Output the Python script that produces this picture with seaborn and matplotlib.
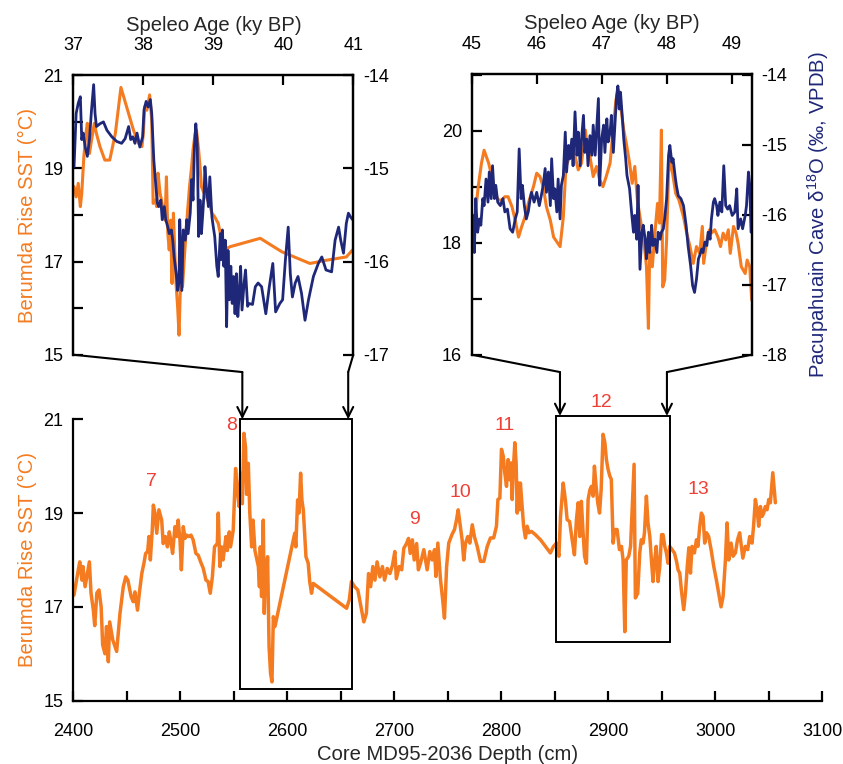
import numpy as np
import pandas as pd
import matplotlib
matplotlib.use("Agg")
import matplotlib.pyplot as plt
import seaborn as sns
from matplotlib.patches import Rectangle, ConnectionPatch
from matplotlib.transforms import blended_transform_factory

sns.set_theme(style="white")
plt.rcParams['font.family'] = ['Liberation Sans', 'DejaVu Sans']
plt.rcParams['axes.unicode_minus'] = False
plt.rcParams['mathtext.fontset'] = 'custom'
plt.rcParams['mathtext.rm'] = 'Liberation Sans'

# ---------------- bottom panel: SST vs core depth ----------------
bottom_depth = [
    2400.6, 2404.7, 2406, 2408, 2409, 2411, 2413, 2415, 2416.5, 2418.7,
    2420, 2422, 2424, 2426, 2427.4, 2429.6, 2431, 2432.7, 2434, 2436.8,
    2439, 2440.5, 2443.6, 2446.7, 2449, 2451, 2454, 2456, 2457.6, 2460,
    2461.7, 2464, 2466, 2467.6, 2469.5, 2470.7, 2472, 2473.8, 2474.8, 2476.3,
    2478, 2480, 2482.6, 2484, 2486, 2488, 2489.7, 2491, 2492.8, 2495,
    2496.6, 2498, 2499.7, 2501, 2502.8, 2504.4, 2506, 2508, 2510, 2512,
    2514.6, 2516.8, 2519, 2521.5, 2524, 2526, 2528, 2530, 2532, 2534.6,
    2535.5, 2537, 2538.6, 2540, 2542.7, 2544, 2545.8, 2547, 2549.5, 2551.7,
    2553, 2555, 2556.4, 2558, 2559.5, 2561, 2562, 2563.6, 2565, 2566.7,
    2568, 2569.8, 2571, 2573, 2574, 2574.8, 2576, 2577.6, 2578.5, 2579.8,
    2580.7, 2581.6, 2583, 2584.4, 2585.7, 2587, 2588.5, 2607, 2608, 2609.7,
    2611, 2612.5, 2613.7, 2615, 2617.5, 2619.6, 2621, 2622.7, 2624.3, 2655.5,
    2658, 2660, 2663, 2666, 2669.5, 2671.6, 2674, 2676, 2678, 2680,
    2682, 2684, 2686.6, 2689, 2691, 2693.5, 2696, 2698.4, 2700.6, 2702,
    2704.7, 2707, 2709, 2711.5, 2713.4, 2715, 2717, 2718.7, 2721, 2722.6,
    2724.6, 2727.7, 2730.8, 2733.3, 2735.5, 2737.7, 2739, 2740.8, 2743.3, 2745,
    2747, 2749, 2751, 2754, 2756.4, 2758.3, 2759.8, 2761.4, 2763.5, 2765,
    2766.7, 2768.8, 2770.7, 2773, 2775, 2777.6, 2780.7, 2783.8, 2787, 2790,
    2793, 2795.6, 2797, 2798.8, 2800.3, 2802, 2803.4, 2805, 2806.5, 2808,
    2809.3, 2810.3, 2811.2, 2812.8, 2814, 2815, 2816, 2817, 2818, 2819.6,
    2821, 2822.7, 2824.3, 2826, 2828.3, 2832, 2836.8, 2841.4, 2846, 2849,
    2851.7, 2854, 2855.5, 2858, 2860, 2861.7, 2864, 2866.4, 2868.5, 2870.4,
    2872, 2873.5, 2875, 2876.6, 2878, 2879.7, 2881.3, 2883, 2884.4, 2886,
    2887.2, 2888.8, 2890.3, 2892, 2893.5, 2895.3, 2897, 2898.4, 2900, 2901.6,
    2903, 2904.7, 2906.2, 2908.4, 2910.6, 2912.5, 2914, 2915.6, 2917, 2919.3,
    2921, 2923, 2924.3, 2925.5, 2927.7, 2929.6, 2931, 2932.7, 2934, 2935.8,
    2937.3, 2939, 2940.5, 2942, 2943.6, 2945, 2946.7, 2948.3, 2950, 2951.4,
    2953, 2954.5, 2956, 2957.6, 2959.8, 2962, 2964, 2965.4, 2967, 2968.5,
    2970.7, 2972.3, 2974, 2975.5, 2977, 2978.5, 2980.7, 2982.6, 2984, 2985.7,
    2987.2, 2988.8, 2990.3, 2992, 2994, 2996.3, 2998.8, 3001.2, 3003.4, 3005.6,
    3007.5, 3009.7, 3011.2, 3012.8, 3015, 3016.8, 3019, 3021, 3023, 3024.6,
    3026, 3028.3, 3030.5, 3032.4, 3034.6, 3036, 3037.7, 3039.3, 3040.8, 3042.4,
    3044, 3045.5, 3047, 3048.6, 3050.2, 3051.7, 3054, 3056.4,
]
bottom_sst = [
    17.25, 17.8, 17.96, 17.57, 17.86, 17.43, 17.7, 17.96, 17.3, 16.93,
    16.6, 17.3, 17.36, 17.0, 16.19, 16.0, 16.58, 15.83, 16.68, 16.3,
    16.15, 16.05, 16.86, 17.43, 17.64, 17.57, 17.22, 17.11, 17.32, 16.93,
    17.29, 17.71, 17.93, 18.14, 18.18, 18.5, 18.0, 18.64, 19.17, 19.0,
    18.57, 19.07, 18.85, 18.35, 18.5, 18.28, 18.6, 18.43, 18.14, 18.71,
    18.5, 18.85, 18.43, 17.79, 18.71, 18.46, 18.53, 18.5, 18.53, 18.43,
    18.14, 18.1, 17.96, 17.82, 17.57, 17.54, 17.29, 17.64, 18.28, 18.35,
    19.0, 17.86, 18.28, 18.0, 18.5, 18.2, 18.6, 18.28, 18.64, 19.95,
    19.56, 19.14, 19.85, 19.2, 20.7, 20.4, 19.4, 20.06, 19.0, 18.28,
    18.85, 18.2, 18.07, 17.86, 17.43, 18.28, 17.22, 18.85, 16.86, 18.0,
    17.57, 18.07, 16.15, 15.58, 15.4, 16.79, 16.58, 18.57, 18.28, 19.28,
    19.0, 19.85, 19.28, 19.07, 18.07, 17.93, 17.54, 17.29, 17.5, 16.97,
    17.15, 17.54, 17.43, 17.36, 16.93, 16.68, 16.86, 17.71, 17.43, 17.86,
    17.57, 17.96, 17.64, 17.86, 17.57, 17.82, 17.71, 17.89, 18.18, 17.6,
    17.86, 17.79, 18.25, 18.35, 18.46, 18.14, 18.43, 18.0, 18.35, 17.79,
    17.93, 18.22, 17.79, 18.18, 18.0, 18.22, 17.65, 18.36, 17.58, 17.22,
    16.76, 17.86, 18.36, 18.54, 18.65, 18.86, 19.07, 18.79, 18.43, 18.0,
    18.36, 18.5, 18.36, 18.75, 18.5, 18.29, 17.97, 17.97, 18.29, 18.47,
    18.47, 18.72, 19.29, 19.32, 20.36, 20.21, 19.86, 19.57, 20.14, 19.71,
    20.07, 19.29, 19.86, 20.5, 20.07, 19.0, 19.64, 19.07, 19.64, 19.14,
    18.72, 18.47, 18.72, 18.58, 18.61, 18.54, 18.43, 18.29, 18.15, 18.29,
    18.36, 18.08, 18.93, 19.64, 19.29, 18.86, 18.82, 18.43, 18.11, 18.86,
    19.22, 18.5, 19.25, 18.58, 18.08, 17.93, 19.29, 19.5, 19.57, 19.36,
    20.0, 19.57, 19.22, 19.0, 19.5, 20.68, 20.5, 20.14, 19.93, 19.79,
    19.72, 18.36, 18.65, 18.65, 18.22, 18.29, 18.0, 16.47, 18.0, 18.08,
    18.29, 19.36, 20.04, 17.19, 17.29, 18.15, 18.43, 18.36, 18.58, 19.36,
    18.79, 18.5, 18.0, 17.54, 18.0, 18.29, 17.54, 17.86, 18.54, 18.54,
    18.29, 18.15, 17.93, 18.29, 18.22, 18.15, 17.97, 17.79, 17.72, 17.36,
    16.94, 17.29, 17.86, 18.26, 17.72, 18.29, 18.15, 18.43, 18.29, 18.72,
    19.0, 18.93, 18.36, 18.58, 18.5, 18.22, 17.86, 17.58, 17.29, 17.0,
    17.22, 18.0, 18.79, 18.0, 18.36, 18.08, 18.15, 18.43, 18.58, 18.29,
    18.04, 18.29, 18.22, 18.5, 18.36, 18.72, 19.29, 19.07, 18.72, 19.14,
    18.93, 19.0, 19.14, 19.07, 19.29, 19.22, 19.86, 19.22,
]

event_labels = ['7', '8', '9', '10', '11', '12', '13']
event_depth = [2473, 2548, 2719, 2762, 2803, 2894, 2984]
event_sst = [19.68, 20.87, 18.86, 19.43, 20.87, 21.35, 19.5]

box_depth_start = [2556, 2851]
box_depth_end = [2661, 2958]
box_sst_low = [15.25, 16.25]
box_sst_high = [21.0, 21.07]
arrow_depth = [2558, 2657, 2855, 2955]

# ---------------- top-left panel: 37-41 ky ----------------
tl_age_sst = [
    37.01, 37.04, 37.07, 37.1, 37.12, 37.15, 37.18, 37.2, 37.23, 37.26,
    37.3, 37.33, 37.38, 37.45, 37.52, 37.6, 37.68, 37.76, 37.86, 37.93,
    37.98, 38.0, 38.02, 38.05, 38.09, 38.12, 38.14, 38.17, 38.19, 38.21,
    38.24, 38.26, 38.29, 38.31, 38.33, 38.35, 38.37, 38.39, 38.41, 38.43,
    38.45, 38.47, 38.49, 38.51, 38.53, 38.56, 38.59, 38.61, 38.63, 38.66,
    38.69, 38.71, 38.74, 38.76, 38.79, 38.81, 38.83, 38.87, 38.9, 38.94,
    38.98, 39.02, 39.07, 39.12, 39.19, 39.24, 39.67, 39.98, 40.38, 40.62,
    40.9, 40.99,
]
tl_sst = [
    18.61, 18.39, 18.68, 18.18, 18.46, 19.25, 19.75, 19.97, 19.32, 19.61,
    19.97, 19.75, 19.47, 19.18, 19.18, 19.75, 20.74, 20.33, 19.82, 19.54,
    19.47, 19.75, 20.33, 20.25, 20.58, 20.04, 18.25, 18.32, 18.18, 18.9,
    18.46, 18.32, 18.04, 17.89, 18.82, 17.6, 17.25, 17.89, 16.53, 18.04,
    17.18, 16.46, 16.03, 15.42, 16.46, 16.46, 17.18, 17.6, 18.04, 18.61,
    19.04, 19.4, 19.75, 19.82, 19.4, 19.04, 18.61, 18.46, 18.39, 18.25,
    18.04, 17.96, 17.82, 17.46, 17.28, 17.32, 17.5, 17.21, 16.96, 17.03,
    17.1, 17.25,
]
tl_age_d18o = [
    37.01, 37.04, 37.07, 37.1, 37.12, 37.14, 37.17, 37.2, 37.23, 37.26,
    37.29, 37.31, 37.33, 37.38, 37.43, 37.48, 37.55, 37.62, 37.69, 37.74,
    37.79, 37.82, 37.85, 37.88, 37.91, 37.95, 37.99, 38.01, 38.04, 38.07,
    38.1, 38.12, 38.15, 38.18, 38.2, 38.22, 38.25, 38.27, 38.3, 38.32,
    38.35, 38.37, 38.4, 38.42, 38.44, 38.47, 38.49, 38.51, 38.52, 38.55,
    38.57, 38.6, 38.62, 38.64, 38.67, 38.69, 38.71, 38.73, 38.75, 38.77,
    38.79, 38.81, 38.83, 38.85, 38.87, 38.88, 38.9, 38.93, 38.95, 38.98,
    39.0, 39.02, 39.05, 39.07, 39.1, 39.11, 39.13, 39.15, 39.17, 39.19,
    39.21, 39.23, 39.25, 39.27, 39.29, 39.31, 39.33, 39.35, 39.37, 39.39,
    39.41, 39.44, 39.46, 39.49, 39.51, 39.56, 39.6, 39.64, 39.69, 39.75,
    39.8, 39.85, 39.89, 39.95, 39.99, 40.03, 40.07, 40.1, 40.13, 40.17,
    40.21, 40.26, 40.31, 40.36, 40.43, 40.5, 40.55, 40.61, 40.69, 40.74,
    40.79, 40.82, 40.86, 40.9, 40.93, 40.96, 40.99,
]
tl_d18o = [
    -14.98, -14.41, -14.3, -14.23, -14.69, -14.62, -14.77, -14.87, -14.69, -14.37,
    -14.1, -14.41, -14.55, -14.52, -14.5, -14.59, -14.66, -14.71, -14.73, -14.68,
    -14.55, -14.69, -14.66, -14.73, -14.62, -14.77, -14.66, -14.37, -14.28, -14.34,
    -14.26, -14.41, -14.91, -15.2, -15.37, -15.41, -15.34, -15.55, -15.41, -15.55,
    -15.63, -15.7, -15.66, -15.77, -15.95, -16.13, -16.31, -16.23, -15.55, -16.31,
    -15.66, -15.77, -15.55, -15.7, -15.48, -15.12, -15.34, -14.77, -14.52, -14.73,
    -15.73, -15.34, -15.7, -15.48, -15.23, -14.98, -15.2, -15.41, -15.09, -15.52,
    -15.63, -15.73, -16.05, -16.16, -15.7, -15.98, -15.66, -16.05, -15.77, -16.7,
    -15.88, -16.41, -16.05, -16.45, -16.16, -16.56, -16.13, -16.59, -16.34, -16.05,
    -16.52, -16.23, -16.09, -16.48, -16.45, -16.46, -16.27, -16.23, -16.27, -16.56,
    -16.27, -16.02, -16.54, -16.45, -16.41, -15.98, -15.63, -16.13, -16.38, -16.23,
    -16.16, -16.34, -16.63, -16.41, -16.16, -16.02, -15.95, -16.09, -16.11, -15.77,
    -15.63, -15.77, -15.91, -15.59, -15.48, -15.52, -15.55,
]

# ---------------- top-right panel: 45-49.3 ky ----------------
tr_age_sst = [
    45.0, 45.05, 45.1, 45.15, 45.19, 45.26, 45.31, 45.36, 45.41, 45.46,
    45.51, 45.56, 45.62, 45.67, 45.72, 45.77, 45.82, 45.87, 45.95, 46.0,
    46.05, 46.1, 46.15, 46.21, 46.26, 46.36, 46.41, 46.45, 46.49, 46.54,
    46.59, 46.64, 46.69, 46.75, 46.78, 46.82, 46.87, 46.92, 46.97, 47.02,
    47.07, 47.13, 47.18, 47.22, 47.26, 47.3, 47.34, 47.38, 47.43, 47.47,
    47.51, 47.55, 47.59, 47.63, 47.67, 47.69, 47.72, 47.74, 47.78, 47.82,
    47.86, 47.89, 47.92, 47.94, 47.97, 48.0, 48.03, 48.06, 48.1, 48.14,
    48.19, 48.26, 48.31, 48.36, 48.41, 48.46, 48.51, 48.55, 48.57, 48.62,
    48.66, 48.69, 48.74, 48.79, 48.83, 48.87, 48.91, 48.95, 48.98, 49.03,
    49.07, 49.1, 49.15, 49.21, 49.24, 49.28, 49.31,
]
tr_sst = [
    18.05, 18.46, 19.0, 19.42, 19.65, 19.42, 19.18, 18.88, 18.76, 18.76,
    18.82, 18.82, 18.64, 18.4, 18.1, 18.29, 18.46, 18.7, 19.0, 19.24,
    19.18, 19.0, 18.64, 18.4, 18.1, 17.93, 18.46, 19.36, 19.48, 19.65,
    19.54, 19.3, 19.42, 20.01, 19.65, 19.54, 19.18, 19.36, 19.12, 19.0,
    19.18, 19.42, 20.07, 20.55, 20.73, 20.37, 20.01, 19.77, 19.42, 19.06,
    19.36, 18.76, 18.46, 18.17, 17.81, 17.57, 16.47, 17.87, 17.57, 18.17,
    18.7, 18.35, 20.01, 17.21, 17.33, 18.05, 19.24, 19.48, 19.18, 18.88,
    18.76, 18.46, 18.17, 17.93, 17.63, 17.93, 17.81, 18.29, 17.63, 18.05,
    18.23, 18.17, 18.23, 18.1, 17.93, 18.17, 18.05, 18.23, 17.81, 18.29,
    18.17, 17.99, 17.57, 17.45, 17.69, 17.57, 16.98,
]
tr_age_d18o = [
    45.02, 45.04, 45.06, 45.09, 45.12, 45.14, 45.17, 45.19, 45.22, 45.25,
    45.27, 45.3, 45.32, 45.35, 45.37, 45.4, 45.44, 45.48, 45.51, 45.55,
    45.59, 45.63, 45.67, 45.7, 45.73, 45.76, 45.78, 45.81, 45.84, 45.87,
    45.9, 45.92, 45.96, 46.0, 46.04, 46.07, 46.1, 46.13, 46.15, 46.18,
    46.21, 46.23, 46.26, 46.28, 46.31, 46.33, 46.36, 46.38, 46.41, 46.44,
    46.46, 46.49, 46.51, 46.54, 46.56, 46.59, 46.62, 46.64, 46.67, 46.69,
    46.72, 46.74, 46.77, 46.79, 46.82, 46.85, 46.87, 46.9, 46.92, 46.95,
    46.97, 47.0, 47.03, 47.05, 47.08, 47.1, 47.13, 47.15, 47.18, 47.21,
    47.23, 47.25, 47.27, 47.29, 47.32, 47.34, 47.37, 47.39, 47.43, 47.46,
    47.49, 47.51, 47.54, 47.56, 47.59, 47.62, 47.64, 47.67, 47.69, 47.72,
    47.74, 47.77, 47.79, 47.82, 47.85, 47.87, 47.9, 47.92, 47.95, 47.97,
    48.0, 48.03, 48.05, 48.08, 48.1, 48.13, 48.15, 48.18, 48.22, 48.26,
    48.3, 48.33, 48.37, 48.4, 48.43, 48.46, 48.49, 48.51, 48.54, 48.56,
    48.59, 48.62, 48.64, 48.67, 48.69, 48.72, 48.74, 48.77, 48.79, 48.82,
    48.85, 48.88, 48.91, 48.94, 48.97, 49.01, 49.05, 49.08, 49.1, 49.14,
    49.17, 49.21, 49.23, 49.26, 49.28, 49.3,
]
tr_d18o = [
    -16.01, -16.54, -15.77, -16.25, -16.06, -16.15, -15.77, -15.87, -15.49, -15.82,
    -15.39, -15.77, -15.3, -15.77, -15.58, -15.82, -15.87, -15.77, -15.96, -15.92,
    -16.2, -16.25, -16.06, -15.96, -15.06, -15.77, -15.58, -15.87, -16.06, -15.96,
    -15.77, -15.68, -15.82, -15.68, -15.87, -15.73, -15.58, -15.34, -15.68, -15.39,
    -15.87, -15.2, -15.77, -15.63, -15.96, -15.49, -16.06, -15.58, -15.44, -14.82,
    -15.39, -15.01, -15.2, -14.92, -15.3, -14.53, -15.15, -14.82, -15.3, -14.92,
    -14.58, -15.11, -14.92, -15.3, -14.87, -15.15, -14.72, -15.15, -14.82, -14.34,
    -15.58, -14.92, -14.72, -15.11, -14.63, -14.96, -14.82, -14.58, -15.11, -14.63,
    -14.3, -14.16, -14.49, -14.25, -14.63, -14.92, -15.2, -15.44, -15.63, -15.96,
    -16.25, -16.01, -16.35, -15.58, -16.78, -16.25, -16.15, -16.35, -16.63, -16.25,
    -16.54, -16.15, -16.44, -16.35, -16.54, -16.25, -16.35, -16.25, -16.2, -16.06,
    -15.77, -15.15, -15.01, -15.25, -15.2, -15.44, -15.58, -15.73, -15.77, -15.87,
    -16.15, -16.44, -16.73, -17.01, -17.11, -16.92, -16.63, -16.58, -16.49, -16.54,
    -16.39, -16.44, -16.25, -16.35, -16.06, -15.82, -15.77, -15.87, -16.01, -15.82,
    -15.96, -15.3, -15.87, -15.92, -15.87, -16.01, -15.96, -15.63, -16.2, -16.06,
    -16.2, -16.01, -15.87, -15.39, -15.58, -16.25,
]

ORANGE = '#f47b20'
NAVY = '#1f2878'
RED = '#ee4036'
FS = 13       # tick labels
LFS = 14.6    # axis labels
EFS = 14      # event numbers
SPW = 1.6

fig = plt.figure(figsize=(8.43, 7.64), dpi=100)
fig.patch.set_facecolor('white')
ax_b = fig.add_axes([0.0870, 0.0829, 0.8881, 0.3683])
ax_l = fig.add_axes([0.0870, 0.5357, 0.3321, 0.3657])
ax_r = fig.add_axes([0.5596, 0.5357, 0.3321, 0.3674])

# ---- bottom panel
bdf = pd.DataFrame({'depth': bottom_depth, 'sst': bottom_sst})
sns.lineplot(data=bdf, x='depth', y='sst', ax=ax_b, color=ORANGE, lw=2.5,
             sort=False, estimator=None)
ax_b.set_xlim(2400, 3100)
ax_b.set_ylim(15, 21)
for s in ['top', 'right']:
    ax_b.spines[s].set_visible(False)
for s in ['left', 'bottom']:
    ax_b.spines[s].set_linewidth(SPW)
    ax_b.spines[s].set_color('black')
xt = np.arange(2400, 3101, 50)
ax_b.set_xticks(xt)
ax_b.set_xticklabels([str(v) if v % 100 == 0 else '' for v in xt])
ax_b.set_yticks([15, 17, 19, 21])
ax_b.tick_params(axis='both', direction='in', length=7, width=SPW, labelsize=FS,
                 colors='black')
ax_b.tick_params(axis='x', pad=16, bottom=True)
ax_b.tick_params(axis='y', pad=7, left=True)
ax_b.set_xlabel('Core MD95-2036 Depth (cm)', fontsize=LFS, labelpad=4)
ax_b.set_ylabel('Berumda Rise SST (°C)', fontsize=LFS, color=ORANGE, labelpad=5)
for x0, x1, y0, y1 in zip(box_depth_start, box_depth_end, box_sst_low, box_sst_high):
    ax_b.add_patch(Rectangle((x0, y0), x1 - x0, y1 - y0, fill=False, lw=1.4,
                             ec='black', clip_on=False, zorder=5))
for t, x, y in zip(event_labels, event_depth, event_sst):
    ax_b.text(x, y, t, color=RED, fontsize=EFS, ha='center', va='center',
              clip_on=False)


def style_top(ax, ax2, xlim, ylim, ylim2, xticks, yticks, ylabels, y2ticks):
    ax.set_xlim(*xlim)
    ax.set_ylim(*ylim)
    ax2.set_ylim(*ylim2)
    ax.xaxis.tick_top()
    ax.xaxis.set_label_position('top')
    ax.set_xticks(xticks)
    ax.set_xticklabels([str(v) for v in xticks])
    ax.set_yticks(yticks)
    ax.set_yticklabels(ylabels)
    ax2.set_yticks(y2ticks)
    ax2.set_yticklabels([str(v) for v in y2ticks])
    for a in (ax, ax2):
        a.spines['bottom'].set_visible(False)
        for s in ['left', 'right', 'top']:
            a.spines[s].set_linewidth(SPW)
            a.spines[s].set_color('black')
    ax.tick_params(axis='x', direction='in', length=7, width=SPW, labelsize=FS,
                   top=True, bottom=False, pad=15, colors='black')
    ax.tick_params(axis='y', direction='in', length=7, width=SPW, labelsize=FS,
                   left=True, right=False, pad=7, colors='black')
    ax2.tick_params(axis='y', direction='in', length=7, width=SPW, labelsize=FS,
                    right=True, left=False, pad=7, colors='black')
    ax.set_xlabel('Speleo Age (ky BP)', fontsize=LFS, labelpad=5)
    ax2.set_ylabel('')


# ---- top-left
ax_l2 = ax_l.twinx()
sns.lineplot(x=tl_age_sst, y=tl_sst, ax=ax_l, color=ORANGE, lw=2.2,
             sort=False, estimator=None)
sns.lineplot(x=tl_age_d18o, y=tl_d18o, ax=ax_l2, color=NAVY, lw=2.0,
             sort=False, estimator=None)
style_top(ax_l, ax_l2, (37, 41), (15, 21), (-17, -14), [37, 38, 39, 40, 41],
          list(range(15, 22)), ['15', '', '17', '', '19', '', '21'],
          [-17, -16, -15, -14])
ax_l.set_ylabel('Berumda Rise SST (°C)', fontsize=LFS, color=ORANGE, labelpad=5)

# ---- top-right
ax_r2 = ax_r.twinx()
sns.lineplot(x=tr_age_sst, y=tr_sst, ax=ax_r, color=ORANGE, lw=2.2,
             sort=False, estimator=None)
sns.lineplot(x=tr_age_d18o, y=tr_d18o, ax=ax_r2, color=NAVY, lw=2.0,
             sort=False, estimator=None)
style_top(ax_r, ax_r2, (45, 49.31), (16, 21.01), (-18, -13.99),
          [45, 46, 47, 48, 49], list(range(16, 22)),
          ['16', '', '18', '', '20', ''], [-18, -17, -16, -15, -14])
ax_r.set_ylabel('')
ax_r2.set_ylabel('Pacupahuain Cave δ$^{\\mathregular{18}}$O (‰, VPDB)',
                 fontsize=LFS, color=NAVY, labelpad=13)

# ---- connectors (zoom funnels + arrows)
kink_y = 0.513
blend = blended_transform_factory(ax_b.transData, fig.transFigure)
pairs = [(ax_l, 0.0, arrow_depth[0], box_sst_high[0]),
         (ax_l, 1.0, arrow_depth[1], box_sst_high[0]),
         (ax_r, 0.0, arrow_depth[2], box_sst_high[1]),
         (ax_r, 1.0, arrow_depth[3], box_sst_high[1])]
for ax, cx, ad, top in pairs:
    fig.add_artist(ConnectionPatch(xyA=(cx, 0), coordsA=ax.transAxes,
                                   xyB=(ad, kink_y), coordsB=blend,
                                   color='black', lw=1.5))
    fig.add_artist(ConnectionPatch(xyA=(ad, kink_y), coordsA=blend,
                                   xyB=(ad, top), coordsB=ax_b.transData,
                                   arrowstyle='->', mutation_scale=18,
                                   color='black', lw=1.5))

fig.savefig('out.png', dpi=100, facecolor='white')
